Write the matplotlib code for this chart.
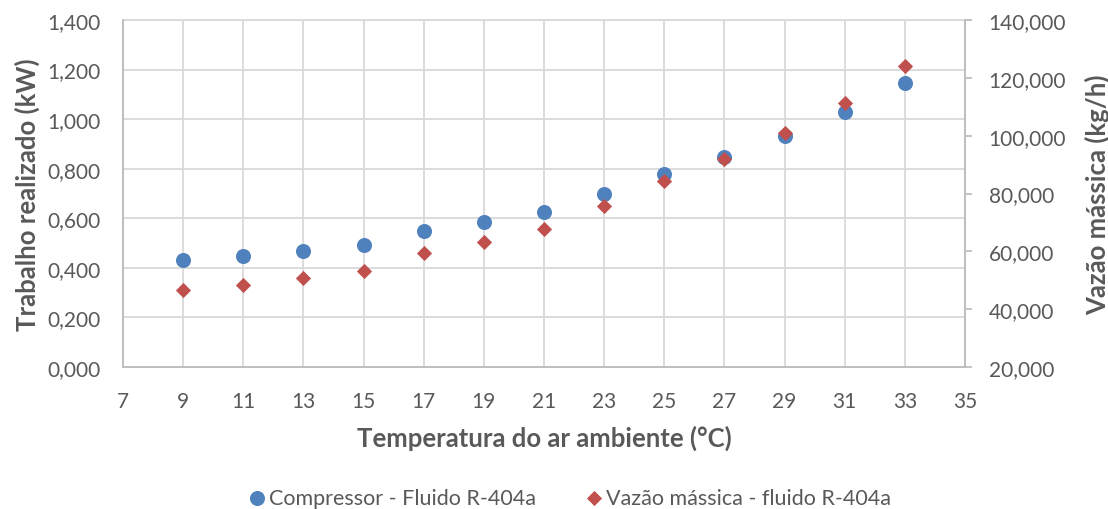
import matplotlib as mpl

mpl.use("Agg")

import matplotlib.pyplot as plt
from matplotlib.ticker import FuncFormatter, MultipleLocator

# data
temperatura = [9, 11, 13, 15, 17, 19, 21, 23, 25, 27, 29, 31, 33]
trabalho_kw = [0.432, 0.448, 0.468, 0.491, 0.550, 0.585, 0.627,
               0.697, 0.779, 0.848, 0.933, 1.027, 1.146]
vazao_kgh = [46700, 48500, 50800, 53100, 59500, 63300, 67800,
             75700, 84400, 92000, 101000, 111400, 124100]

BLUE = "#4F81BD"
RED = "#C0504D"
TEXT = "#595959"
GRID = "#D9D9D9"
SPINE = "#BFBFBF"

mpl.rcParams.update(
    {
        "font.family": ["Lato", "DejaVu Sans"],
        "font.size": 15,
        "text.color": TEXT,
        "axes.labelcolor": TEXT,
        "xtick.color": TEXT,
        "ytick.color": TEXT,
    }
)

fig = plt.figure(figsize=(11.08, 5.10), dpi=100)
ax = fig.add_axes([0.111, 0.2784, 0.760, 0.6804])
ax2 = ax.twinx()

ax.scatter(temperatura, trabalho_kw, s=117, marker="o", color=BLUE,
           linewidths=0, zorder=3, label="Compressor - Fluido R-404a")
ax2.scatter(temperatura, vazao_kgh, s=60, marker="D", color=RED,
            linewidths=0, zorder=3, label="Vazão mássica - fluido R-404a")

ax.set_xlim(7, 35)
ax.set_ylim(0, 1.4)
ax2.set_ylim(20000, 140000)
ax.set_xticks(range(7, 36, 2))
ax.yaxis.set_major_locator(MultipleLocator(0.2))
ax2.yaxis.set_major_locator(MultipleLocator(20000))
ax.yaxis.set_major_formatter(FuncFormatter(lambda v, _: f"{v:.3f}".replace(".", ",")))
ax2.yaxis.set_major_formatter(FuncFormatter(lambda v, _: f"{int(round(v)):,}"))

ax.grid(True, color=GRID, linewidth=1.3)
ax.set_axisbelow(True)

for a in (ax, ax2):
    for spine in a.spines.values():
        spine.set_color(SPINE)
        spine.set_linewidth(1.3)
ax.spines["top"].set_color(GRID)
ax2.spines["top"].set_visible(False)

ax.tick_params(axis="x", length=0, labelsize=15, pad=17)
ax.tick_params(axis="y", length=0, labelsize=15, pad=16)
ax2.tick_params(axis="y", length=5, width=1.3, color=SPINE, labelsize=15, pad=12)

ax.set_xlabel("Temperatura do ar ambiente (°C)", fontsize=18.5, fontweight="bold")
ax.set_ylabel("Trabalho realizado (kW)", fontsize=18.5, fontweight="bold")
ax2.set_ylabel("Vazão mássica (kg/h)", fontsize=18.5, fontweight="bold")
ax.xaxis.set_label_coords(0.5, -0.202)
ax.xaxis.label.set_va("center")
ax.yaxis.set_label_coords(-0.1135, 0.5)
ax.yaxis.label.set_va("center")
ax2.yaxis.set_label_coords(1.157, 0.5)
ax2.yaxis.label.set_va("center")

h1, l1 = ax.get_legend_handles_labels()
h2, l2 = ax2.get_legend_handles_labels()
fig.legend(h1 + h2, l1 + l2, loc="center", bbox_to_anchor=(0.513, 0.022), ncol=2,
           frameon=False, fontsize=15.5, handletextpad=0.05, columnspacing=2.2,
           borderaxespad=0, handlelength=1.0)

fig.savefig("out.png", dpi=100, facecolor="white")
